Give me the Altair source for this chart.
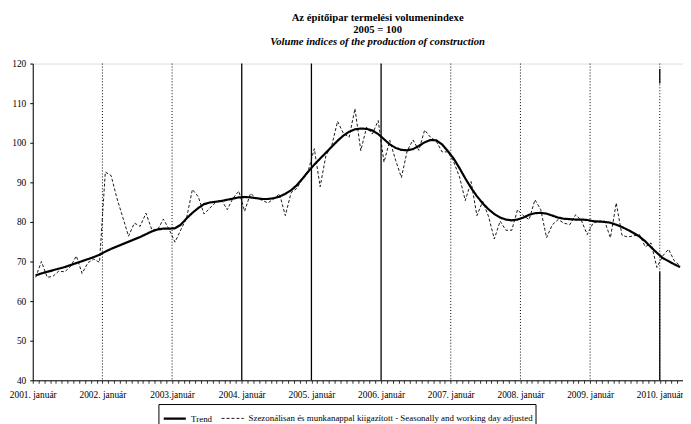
import altair as alt
import pandas as pd

# ---------------- data ----------------
year_labels = ["2001. január", "2002. január", "2003.január", "2004. január",
               "2005. január", "2006. január", "2007. január", "2008. január",
               "2009. január", "2010. január"]
solid_years = ["2004. január", "2005. január", "2006. január"]

series_names = ["Trend",
                "Szezonálisan és munkanappal kiigazított - Seasonally and working day adjusted"]

# monthly values, January 2001 - April 2010
trend = [
    66.5, 67.0, 67.4, 67.8, 68.2, 68.6, 69.1, 69.6, 70.1, 70.6, 71.1, 71.7,
    72.5, 73.2, 73.8, 74.4, 75.0, 75.6, 76.2, 76.9, 77.6, 78.1, 78.3, 78.3,
    78.4, 79.3, 80.9, 82.3, 83.5, 84.5, 84.9, 85.1, 85.3, 85.6, 85.9, 86.2,
    86.3, 86.2, 86.0, 85.8, 85.8, 86.0, 86.4, 87.1, 88.0, 89.3, 91.0, 92.8,
    94.5, 96.0, 97.5, 99.0, 100.5, 101.8, 102.8, 103.4, 103.6, 103.5, 103.1, 102.2,
    100.9, 99.6, 98.7, 98.2, 98.1, 98.4, 99.2, 100.1, 100.7, 100.6, 99.6, 97.9,
    96.0, 93.6, 91.0, 88.6, 86.5, 84.7, 83.2, 82.0, 81.1, 80.6, 80.4, 80.6,
    81.1, 81.8, 82.2, 82.3, 82.1, 81.6, 81.1, 80.8, 80.7, 80.6, 80.6, 80.5,
    80.2, 80.1, 80.0, 79.8, 79.3, 78.7, 78.0, 77.2, 76.3, 75.1, 73.6, 72.2,
    70.9, 70.1, 69.3, 68.6,
]
adjusted = [
    66.0, 70.0, 66.0, 66.3, 67.6, 67.4, 68.7, 71.4, 67.0, 69.7, 70.6, 69.8,
    92.6, 91.7, 86.0, 81.2, 76.4, 79.7, 78.9, 82.2, 78.1, 78.0, 80.7, 78.1,
    74.9, 78.0, 81.0, 88.2, 86.4, 82.0, 83.5, 84.9, 85.6, 83.1, 86.0, 87.8,
    82.7, 87.2, 86.0, 85.5, 84.8, 85.8, 87.1, 81.6, 87.4, 88.5, 91.0, 93.2,
    98.5, 88.9, 96.8, 99.3, 105.4, 102.4, 101.4, 108.6, 98.0, 103.9, 102.2, 105.6,
    95.1, 100.6, 95.6, 91.2, 98.0, 100.7, 98.1, 103.2, 101.4, 100.4, 97.7, 97.7,
    95.2, 91.4, 85.4, 90.2, 81.6, 85.2, 81.4, 75.7, 80.2, 77.9, 77.9, 83.1,
    81.6, 80.6, 85.6, 83.1, 76.0, 79.3, 80.6, 79.7, 79.3, 81.8, 80.4, 76.8,
    79.7, 80.2, 80.2, 76.0, 84.8, 76.6, 76.2, 76.5, 76.8, 73.7, 74.7, 68.5,
    71.4, 73.1, 70.2, 68.9,
]
y_ticks = [40, 50, 60, 70, 80, 90, 100, 110, 120]

n = len(trend)
df = pd.DataFrame({
    "m": list(range(n)) * 2,
    "value": trend + adjusted,
    "series": [series_names[0]] * n + [series_names[1]] * len(adjusted),
})

years_df = pd.DataFrame({
    "label": year_labels,
    "m": [12 * i for i in range(len(year_labels))],
})
years_df["solid"] = years_df["label"].isin(solid_years)
years_df = years_df[years_df["m"] > 0]

# solid pieces of the 2010 gridline
seg_df = pd.DataFrame({"m": [108, 108], "y0": [40, 115.0], "y1": [67.5, 118.6]})

FONT = "Liberation Serif"
label_array = "[" + ",".join("'" + s + "'" for s in year_labels) + "]"

x_scale = alt.Scale(domain=[0, 12 * (len(year_labels) - 1) + 4], nice=False, zero=False)
y_scale = alt.Scale(domain=[40, 120], nice=False, zero=False)

x_axis = alt.Axis(
    values=list(range(0, 113)),
    labelExpr=f"datum.value % 12 == 0 ? {label_array}[datum.value / 12] : ''",
    title=None, grid=False, tickSize=3, labelPadding=6,
    labelOverlap=False, labelBound=False, labelFlush=False,
    labelFont=FONT, labelFontSize=9.5, labelColor="black",
    domainColor="black", tickColor="black", tickWidth=0.8,
)
y_axis = alt.Axis(
    values=y_ticks, title=None, grid=False, tickSize=3, labelPadding=4,
    labelOverlap=False,
    labelFont=FONT, labelFontSize=9.5, labelColor="black",
    domainColor="black", tickColor="black",
)

legend = alt.Legend(
    title=None, orient="none", legendX=127, legendY=344, direction="horizontal",
    labelFont=FONT, labelFontSize=9, labelColor="black", labelLimit=500,
    symbolType="stroke", symbolSize=500, symbolStrokeColor="black",
    strokeColor="black", padding=2, columnPadding=6, symbolOffset=2,
)

X = lambda f: alt.X(f, scale=x_scale, axis=x_axis)
Y = lambda f: alt.Y(f, scale=y_scale, axis=y_axis)

rules_dotted = alt.Chart(years_df).transform_filter("!datum.solid").mark_rule(
    color="black", strokeWidth=1, strokeDash=[1, 2]
).encode(x=X("m:Q"))

rules_solid = alt.Chart(years_df).transform_filter("datum.solid").mark_rule(
    color="black", strokeWidth=1.3
).encode(x=X("m:Q"))

segs = alt.Chart(seg_df).mark_rule(color="black", strokeWidth=1.3).encode(
    x=X("m:Q"),
    y=Y("y0:Q"),
    y2="y1:Q",
)

lines = alt.Chart(df).transform_calculate(pos="datum.m + 0.5").mark_line(
    color="black"
).encode(
    x=X("pos:Q"),
    y=Y("value:Q"),
    strokeDash=alt.StrokeDash(
        "series:N",
        scale=alt.Scale(domain=series_names, range=[[1, 0], [3, 2]]),
        legend=legend,
    ),
    strokeWidth=alt.StrokeWidth(
        "series:N",
        scale=alt.Scale(domain=series_names, range=[2.2, 0.9]),
        legend=legend,
    ),
)

chart = alt.layer(rules_dotted, rules_solid, segs, lines).properties(
    width=657,
    height=320,
    autosize=alt.AutoSizeParams(type="none"),
    padding={"left": 25, "top": 54, "right": 0, "bottom": 42},
    title=alt.Title(
        text=["Az építőipar termelési volumenindexe", "2005 = 100"],
        subtitle="Volume indices of the production of construction",
        font=FONT, fontSize=10.8, fontWeight="bold", lineHeight=12.5, color="black",
        subtitleFont=FONT, subtitleFontSize=10.8, subtitleFontStyle="italic",
        subtitleFontWeight="bold", subtitleColor="black", subtitlePadding=1,
        anchor="middle", dx=20, offset=12,
    ),
).configure_view(stroke=None).configure(background="white")

chart.save("out.html", embed_options={"renderer": "svg", "actions": False})
